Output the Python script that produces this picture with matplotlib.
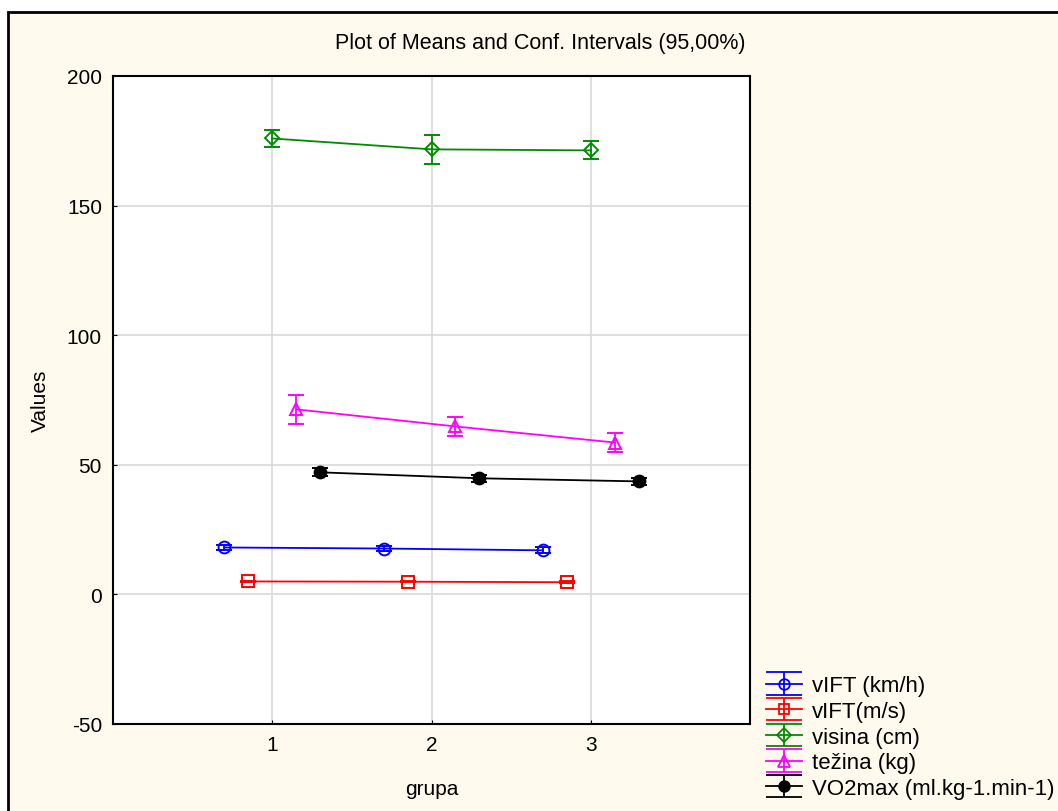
import numpy as np
import matplotlib
matplotlib.use("Agg")
import matplotlib.pyplot as plt
from matplotlib.patches import Rectangle

plt.rcParams["font.family"] = ["Liberation Sans", "DejaVu Sans"]
plt.rcParams["axes.unicode_minus"] = False

groups = [1, 2, 3]
series_names = ["vIFT (km/h)", "vIFT(m/s)", "visina (cm)", "težina (kg)", "VO2max (ml.kg-1.min-1)"]
offsets = [-0.3, -0.15, 0.0, 0.15, 0.3]

vift_kmh = [18.1, 17.7, 17.0]
vift_kmh_ci = [1.0, 0.9, 1.1]
vift_ms = [5.0, 4.9, 4.7]
vift_ms_ci = [0.3, 0.25, 0.3]
visina = [175.9, 171.7, 171.3]
visina_ci = [3.3, 5.7, 3.5]
tezina = [71.4, 64.8, 58.6]
tezina_ci = [5.6, 3.7, 3.5]
vo2max = [47.1, 44.8, 43.6]
vo2max_ci = [1.5, 1.3, 1.3]

means = [vift_kmh, vift_ms, visina, tezina, vo2max]
cis = [vift_kmh_ci, vift_ms_ci, visina_ci, tezina_ci, vo2max_ci]
colors = ["#0000FF", "#FF0000", "#008C00", "#FF00FF", "#000000"]
markers = ["o", "s", "D", "^", "o"]
filled = [False, False, False, False, True]
msizes = [8.5, 8, 7.5, 9, 8.5]

bg = "#FFF9EE"

fig = plt.figure(figsize=(10.58, 8.12), dpi=100)
fig.patch.set_facecolor("white")
fig.patches.append(Rectangle((8/1058, -0.05), 1.1, 1 - 13/812 + 0.05,
                             transform=fig.transFigure, facecolor=bg,
                             edgecolor="black", linewidth=2, zorder=-1))

ax = fig.add_axes([113/1058, 1 - 725/812, (750-113)/1058, (725-77)/812])
ax.set_facecolor("white")

for i in range(5):
    x = np.array(groups) + offsets[i]
    ax.errorbar(x, means[i], yerr=cis[i], color=colors[i], marker=markers[i],
                markersize=msizes[i],
                markerfacecolor=colors[i] if filled[i] else "none",
                markeredgecolor=colors[i], markeredgewidth=1.4,
                linewidth=1.3, elinewidth=1.3, capsize=5.5, capthick=1.3, zorder=3)

# proxy handles for the legend, wide caps like in the original
handles = []
for i in range(5):
    h = ax.errorbar([np.nan], [np.nan], yerr=[1], color=colors[i], marker=markers[i],
                    markersize=msizes[i] * 0.9,
                    markerfacecolor=colors[i] if filled[i] else "none",
                    markeredgecolor=colors[i], markeredgewidth=1.3,
                    linewidth=1.3, elinewidth=1.3, capsize=13, capthick=1.3)
    handles.append(h)

ax.set_xlim(0, 4)
ax.set_ylim(-50, 200)
ax.set_xticks([1, 2, 3])
ax.set_yticks([-50, 0, 50, 100, 150, 200])
ax.grid(True, color="#D9D9D9", linewidth=1.2)
ax.set_axisbelow(True)
ax.tick_params(direction="in", length=3, labelsize=15, colors="black", pad=8)
for s in ax.spines.values():
    s.set_linewidth(1.5)

ax.set_xlabel("grupa", fontsize=15, labelpad=18)
ax.set_ylabel("Values", fontsize=15, labelpad=12)
fig.text(540/1058, 1 - 44/812, "Plot of Means and Conf. Intervals (95,00%)",
         fontsize=15.5, ha="center", va="center")

fig.legend(handles, series_names, loc="lower left",
           bbox_to_anchor=(766/1058, 12/812), frameon=False,
           fontsize=16, handlelength=1.6, handletextpad=0.45,
           labelspacing=0.21, borderpad=0.0, borderaxespad=0.0)

fig.savefig("out.png", dpi=100, facecolor=fig.get_facecolor())
